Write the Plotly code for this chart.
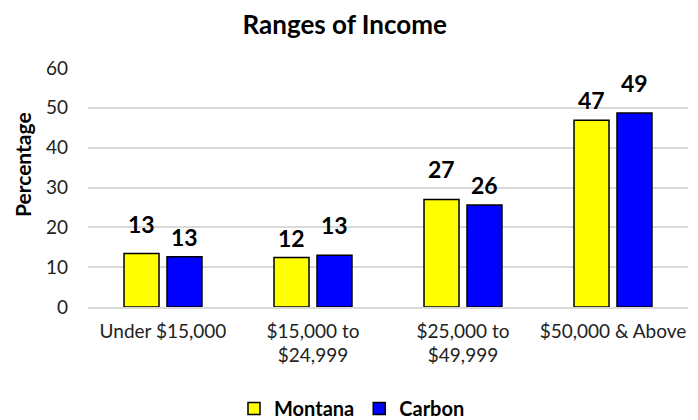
import plotly.graph_objects as go

categories = ["Under $15,000", "$15,000 to<br>$24,999", "$25,000 to<br>$49,999", "$50,000 & Above"]
montana = [13.4, 12.4, 27.0, 46.9]
carbon = [12.6, 13.0, 25.6, 48.7]
y_ticks = [0, 10, 20, 30, 40, 50, 60]

# label placement (style): extra lift above bar in px
montana_lift = [14, 4, 14, 4]
carbon_lift = [4, 14, 4, 14]

FONT = "Lato, 'Open Sans', sans-serif"

# the page body has an 8px margin, so the figure is sized 8px smaller
W, H = 690, 412

fig = go.Figure()
fig.add_trace(go.Bar(
    name="Montana", x=categories, y=montana,
    marker=dict(color="#FFFF00", line=dict(color="black", width=1.5)),
))
fig.add_trace(go.Bar(
    name="Carbon", x=categories, y=carbon,
    marker=dict(color="#0000FF", line=dict(color="black", width=1.5)),
))

annotations = []
for series, shift, lifts in ((montana, -21.5, montana_lift), (carbon, 21.5, carbon_lift)):
    for cat, val, lift in zip(categories, series, lifts):
        annotations.append(dict(
            x=cat, y=val, xref="x", yref="y", text=f"<b>{round(val)}</b>",
            showarrow=False, xshift=shift, yshift=lift, yanchor="bottom",
            font=dict(size=23, color="black", family=FONT),
        ))
annotations.append(dict(
    text="<b>Percentage</b>", textangle=-90, xref="paper", yref="paper",
    x=-0.11, y=0.594, xanchor="center", yanchor="middle", showarrow=False,
    font=dict(size=21, color="black", family=FONT),
))

fig.update_layout(
    width=W, height=H,
    margin=dict(l=80, r=10, t=60, b=113, autoexpand=False),
    paper_bgcolor="white", plot_bgcolor="white",
    font=dict(family=FONT, size=19, color="#222"),
    title=dict(text="<b>Ranges of Income</b>", x=0.488, xanchor="center", y=0.959, yanchor="middle",
               font=dict(size=26, color="black", family=FONT)),
    barmode="group", bargap=0.427, bargroupgap=0.186,
    showlegend=True,
    legend=dict(orientation="h", x=0.44, xanchor="center", y=-0.425, yanchor="middle",
                font=dict(size=20, color="black", family=FONT, weight="bold"),
                traceorder="normal", itemwidth=30),
    annotations=annotations,
)
fig.update_yaxes(
    range=[0, 60], tickvals=y_ticks, showgrid=True, gridcolor="#d9d9d9", gridwidth=1.5,
    zeroline=False, showline=False, ticks="", automargin=False, ticklabelstandoff=19,
    tickfont=dict(size=19, color="#222"),
)
fig.update_xaxes(
    showline=True, linecolor="#d9d9d9", linewidth=1.5, showgrid=False, ticks="",
    automargin=False, ticklabelstandoff=6,
    tickfont=dict(size=19, color="#222"),
)

fig.write_html("out.html")
